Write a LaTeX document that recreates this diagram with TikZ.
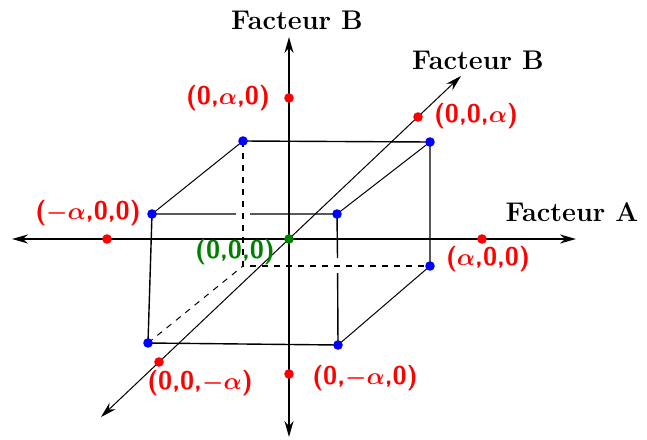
\documentclass[tikz,border=0pt]{standalone}
\usepackage{amsmath,amssymb,bm}
\usepackage{tikz}
\usetikzlibrary{arrows.meta}

\begin{document}
\begin{tikzpicture}[x=0.5pt,y=-0.5pt,>={Stealth[length=8pt,width=4.5pt]},
  dot/.style={circle,fill,inner sep=0pt,minimum size=4.8pt},
  lab/.style={font=\fontsize{12.8}{14}\selectfont\sffamily\bfseries},
  axlab/.style={font=\fontsize{13.5}{15}\selectfont\bfseries}]
\useasboundingbox (0,0) rectangle (647,439);
% axes
\coordinate (o) at (289,239);
\coordinate (aL) at (12,239);
\coordinate (aR) at (576,239);
\coordinate (bT) at (289,37);
\coordinate (bB) at (289,437);
\coordinate (cL) at (101,417);
\coordinate (cR) at (461,76);
% cube corners
\coordinate (ftl) at (152,214);
\coordinate (ftr) at (337,214);
\coordinate (fbl) at (148,343);
\coordinate (fbr) at (338,345);
\coordinate (btl) at (243,141);
\coordinate (btr) at (430,142);
\coordinate (bbl) at (243,266);
\coordinate (bbr) at (430,266);
% gaps where hidden edges pass
\coordinate (g1) at (236,214);
\coordinate (g2) at (250,214);
\coordinate (g3) at (337.5,258);
\coordinate (g4) at (337.6,273);
\draw[line width=0.9pt,<->] (aL) -- (aR);
\draw[line width=0.9pt,<->] (bB) -- (bT);
\draw[line width=0.5pt,<->] (cL) -- (cR);
% cube
\draw[line width=0.7pt] (g1) -- (ftl) -- (fbl) -- (fbr) -- (g4);
\draw[line width=0.7pt] (g2) -- (ftr) -- (g3);
\draw[line width=0.7pt] (btl) -- (btr) -- (bbr);
\draw[line width=0.5pt] (ftl) -- (btl);
\draw[line width=0.5pt] (ftr) -- (btr);
\draw[line width=0.5pt] (fbr) -- (bbr);
\draw[line width=0.6pt,dashed] (btl) -- (bbl) -- (bbr);
\draw[line width=0.5pt,dashed] (fbl) -- (bbl);
% points
\foreach \p in {ftl,ftr,fbl,fbr,btl,btr,bbr}
  \node[dot,blue] at (\p) {};
\node[dot,red] (pA) at (482,239) {};
\node[dot,red] (mA) at (107,239) {};
\node[dot,red] (pB) at (289,98) {};
\node[dot,red] (mB) at (289,374) {};
\node[dot,red] (pC) at (418,117) {};
\node[dot,red] (mC) at (159,362) {};
\node[dot,green!50!black] at (o) {};
% labels
\node[axlab] (tB) at (297,20) {Facteur B};
\node[axlab] (tC) at (478,60) {Facteur B};
\node[axlab] (tA) at (572,212) {Facteur A};
\node[lab,red] at (488,259) {($\bm{\alpha}$,0,0)};
\node[lab,red] at (88,213) {($\bm{-\alpha}$,0,0)};
\node[lab,red] at (228,98) {(0,$\bm{\alpha}$,0)};
\node[lab,red] at (365,378) {(0,$\bm{-\alpha}$,0)};
\node[lab,red] at (476,116) {(0,0,$\bm{\alpha}$)};
\node[lab,red] at (200,383) {(0,0,$\bm{-\alpha}$)};
\node[lab,green!50!black] at (235,252) {(0,0,0)};
\end{tikzpicture}
\end{document}
